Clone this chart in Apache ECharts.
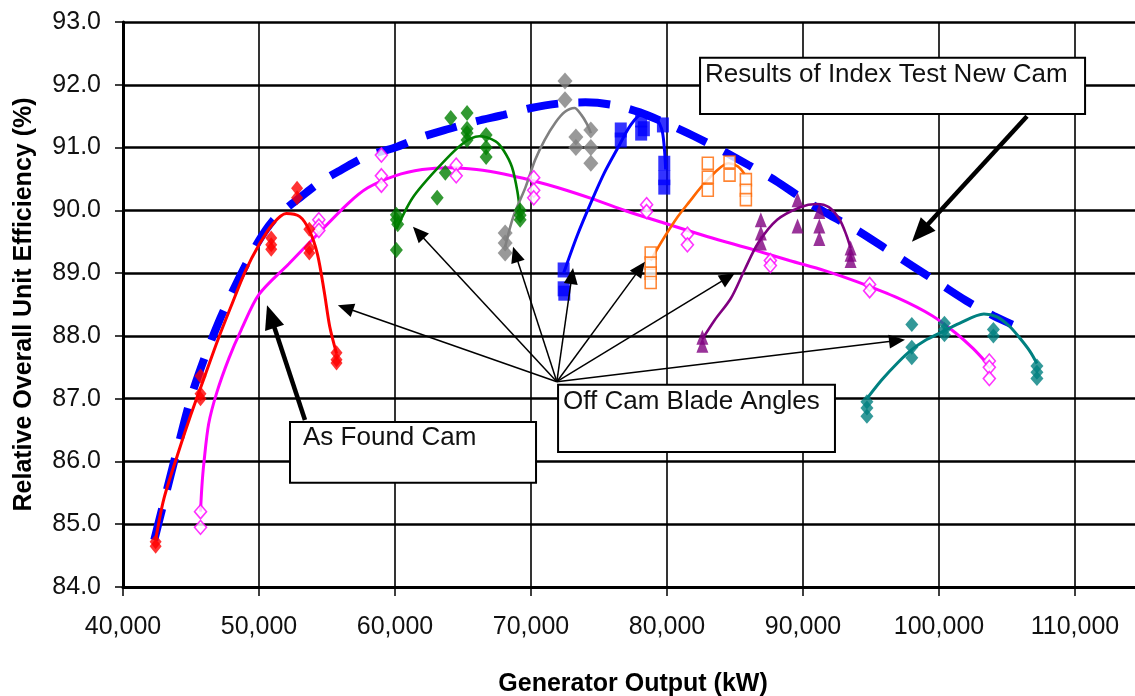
<!DOCTYPE html>
<html>
<head>
<meta charset="utf-8">
<script src="https://cdn.jsdelivr.net/npm/echarts@6/dist/echarts.min.js"></script>
<style>
  html, body { margin: 0; padding: 0; background: #fff; }
  #chart { width: 1135px; height: 696px; }
</style>
</head>
<body>
<div id="chart"></div>
<script>
// Axis ranges and tick spacing
const xMin = 40000, xMax = 115000, xStep = 10000;
const yMin = 84, yMax = 93, yStep = 1;
const xTitle = 'Generator Output (kW)';
const yTitle = 'Relative Overall Unit Efficiency (%)';

// Index test result with the new cam (dashed envelope)
const newCamCurve = [
  [42300, 84.75], [43000, 85.35], [44000, 86.2], [45000, 87.02], [46000, 87.65], [47000, 88.2],
  [48000, 88.68], [49000, 89.12], [50000, 89.52], [51000, 89.83], [52000, 90.03], [53000, 90.2],
  [54500, 90.45], [56000, 90.64], [58000, 90.87], [60000, 91.0], [62000, 91.17], [64000, 91.3],
  [66000, 91.42], [68000, 91.52], [70000, 91.63], [72000, 91.7], [74000, 91.72], [76000, 91.68],
  [78000, 91.56], [80000, 91.38], [82000, 91.18], [84000, 90.96], [86000, 90.72], [88000, 90.47],
  [90000, 90.18], [92000, 89.92], [94000, 89.68], [96000, 89.4], [98000, 89.12], [100000, 88.84],
  [102000, 88.56], [104000, 88.32], [105400, 88.18]
];

// As found cam: measured points and fitted curve
const asFoundPts = [
  [45700, 85.2], [45700, 84.95], [54400, 89.85], [54400, 89.75], [54400, 89.68],
  [59000, 90.88], [59000, 90.55], [59000, 90.4], [64500, 90.72], [64500, 90.55],
  [70200, 90.52], [70200, 90.32], [70200, 90.2], [78500, 90.09], [78500, 89.98],
  [81500, 89.62], [81500, 89.45], [87600, 89.2], [87600, 89.12], [94900, 88.82],
  [94900, 88.72], [103700, 87.6], [103700, 87.5], [103700, 87.32]
];
const asFoundCurve = [
  [45700, 85.2], [45800, 85.6], [45950, 85.98], [46300, 86.6], [46900, 87.1], [47800, 87.65],
  [48700, 88.1], [50000, 88.66], [52200, 89.15], [54400, 89.64], [56600, 90.12], [58000, 90.36],
  [60000, 90.55], [62000, 90.65], [64000, 90.68], [66000, 90.65], [68000, 90.58], [70000, 90.48],
  [72000, 90.36], [74700, 90.17], [77000, 89.99], [79900, 89.79], [83000, 89.58], [86400, 89.37],
  [89000, 89.2], [91600, 89.04], [94000, 88.86], [97000, 88.6], [99500, 88.32], [101200, 88.05],
  [102500, 87.8], [103700, 87.52]
];

// Off-cam blade angle runs: measured points and fitted curves
const redPts = [
  [42400, 84.65], [42400, 84.72], [45700, 87.0], [45700, 87.08], [45700, 87.36],
  [50900, 89.56], [50900, 89.45], [50900, 89.38], [52800, 90.35], [52800, 90.2],
  [53700, 89.7], [53700, 89.4], [53700, 89.32], [55700, 87.73], [55700, 87.62], [55700, 87.57]
];
const redCurve = [
  [42400, 84.75], [43000, 85.4], [44000, 86.1], [45000, 86.75], [46000, 87.35], [47000, 87.95],
  [48000, 88.5], [49000, 89.03], [50000, 89.45], [51000, 89.78], [52000, 89.95], [53000, 89.9],
  [53700, 89.68], [54300, 89.3], [54800, 88.7], [55200, 88.15], [55700, 87.72]
];

const greenPts = [
  [60100, 89.37], [60100, 89.85], [60100, 89.93], [60200, 89.78], [63100, 90.2], [63700, 90.6],
  [64100, 91.47], [65300, 91.55], [65300, 91.3], [65300, 91.23], [65300, 91.12],
  [66700, 91.2], [66700, 91.0], [66700, 90.85], [69200, 90.0], [69200, 89.85], [69200, 89.92]
];
const greenCurve = [
  [60100, 89.7], [61300, 90.2], [63000, 90.64], [64900, 91.05], [66200, 91.18], [67400, 91.1],
  [68000, 90.95], [68600, 90.69], [69000, 90.3], [69200, 89.96]
];

const grayPts = [
  [68100, 89.64], [68100, 89.48], [68100, 89.32], [72500, 92.06], [72500, 91.76],
  [73300, 91.17], [73300, 91.0], [74400, 91.28], [74400, 91.0], [74400, 90.75]
];
const grayCurve = [
  [68100, 89.42], [68700, 89.9], [69600, 90.37], [70300, 90.8], [71000, 91.12], [71800, 91.4],
  [72500, 91.57], [73200, 91.63], [73700, 91.52], [74100, 91.38], [74400, 91.23]
];

const bluePts = [
  [72400, 89.05], [72400, 88.75], [72450, 88.68], [76600, 91.28], [76600, 91.12],
  [78100, 91.44], [78100, 91.23], [78300, 91.3], [79700, 91.36], [79800, 90.75],
  [79800, 90.52], [79800, 90.37]
];
const blueCurve = [
  [72400, 89.0], [73400, 89.6], [74400, 90.12], [75400, 90.6], [76400, 91.0], [77300, 91.35],
  [78100, 91.52], [79000, 91.5], [79600, 91.3], [79800, 91.0], [79900, 90.65]
];

const orangePts = [
  [78800, 89.32], [78800, 89.16], [78800, 89.0], [78800, 88.85], [83000, 90.75], [83000, 90.53],
  [83000, 90.32], [84600, 90.77], [84600, 90.56], [85800, 90.49], [85800, 90.32], [85800, 90.17]
];
const orangeCurve = [
  [78800, 89.2], [79600, 89.5], [80800, 89.9], [81700, 90.15], [82500, 90.37], [83500, 90.6],
  [84500, 90.75], [85200, 90.7], [85700, 90.58]
];

const purplePts = [
  [82600, 87.98], [82600, 87.85], [86900, 89.85], [86900, 89.64], [86900, 89.48],
  [89600, 90.17], [89600, 89.75], [91200, 89.98], [91200, 89.75], [91200, 89.55],
  [93500, 89.4], [93500, 89.3], [93500, 89.2]
];
const purpleCurve = [
  [82600, 87.95], [83500, 88.25], [84700, 88.6], [85700, 89.05], [86700, 89.48], [88100, 89.85],
  [89800, 90.05], [91000, 90.1], [91900, 90.05], [92700, 89.85], [93200, 89.6], [93500, 89.4]
];

const tealPts = [
  [94700, 86.95], [94700, 86.85], [94700, 86.72], [98000, 88.18], [98000, 87.82], [98000, 87.65],
  [100400, 88.2], [100400, 88.1], [100400, 88.02], [104000, 88.1], [104000, 88.0],
  [107200, 87.52], [107200, 87.42], [107200, 87.32]
];
const tealCurve = [
  [94700, 87.0], [95800, 87.3], [97000, 87.58], [98000, 87.78], [99000, 87.93], [100100, 88.05],
  [101500, 88.2], [103300, 88.35], [104300, 88.3], [105200, 88.15], [106000, 87.95],
  [106700, 87.75], [107200, 87.56]
];

// Callout boxes (data-space corners) and their captions
const boxes = [
  { text: 'Results of Index Test New Cam', x0: 82430, x1: 110740, y0: 91.535, y1: 92.43, padX: 5, padY: 4 },
  { text: 'As Found Cam', x0: 52280, x1: 70370, y0: 85.66, y1: 86.63, padX: 13, padY: 3 },
  { text: 'Off Cam Blade Angles', x0: 71990, x1: 92350, y0: 86.15, y1: 87.22, padX: 5, padY: 4 }
];
// Callout arrows (data-space start and tip)
const thickArrows = [
  { from: [106470, 91.5], to: [98010, 89.5] },
  { from: [53380, 86.66], to: [50590, 88.49] }
];
const offCamOrigin = [71900, 87.27];
const offCamTips = [
  [55800, 88.49], [61320, 89.74], [68680, 89.42], [73090, 89.08],
  [78380, 89.18], [85000, 89.0], [97500, 87.94]
];

const FONT = "'Liberation Sans', Arial, Helvetica, sans-serif";

function curve(name, data, color, width) {
  return {
    name, type: 'line', data, smooth: 0.3, showSymbol: false, symbol: 'none',
    lineStyle: { color, width }, z: 3, silent: true
  };
}
function points(name, data, symbol, size, color, hollow) {
  return {
    name, type: 'scatter', data, symbol, symbolSize: size, z: 4, silent: true,
    itemStyle: hollow
      ? { color: '#fff', borderColor: color, borderWidth: 1.6 }
      : { color }
  };
}

const chart = echarts.init(document.getElementById('chart'), null, { renderer: 'canvas' });

chart.setOption({
  animation: false,
  backgroundColor: '#fff',
  textStyle: { fontFamily: FONT },
  grid: { left: 123, top: 22, bottom: 109, right: -8, containLabel: false, outerBoundsMode: 'none' },
  xAxis: {
    type: 'value', min: xMin, max: xMax, interval: xStep,
    name: xTitle, nameLocation: 'middle', nameGap: 85,
    nameTextStyle: { fontFamily: FONT, fontSize: 25, fontWeight: 'bold', color: '#000' },
    axisLine: { show: true, lineStyle: { color: '#000', width: 3 } },
    axisTick: { show: true, length: 9, lineStyle: { color: '#000', width: 1.5 } },
    axisLabel: {
      fontFamily: FONT, fontSize: 25, color: '#111', margin: 28, showMaxLabel: false,
      formatter: v => v.toLocaleString('en-US')
    },
    splitLine: { show: true, lineStyle: { color: '#000', width: 1.6 } }
  },
  yAxis: {
    type: 'value', min: yMin, max: yMax, interval: yStep,
    name: yTitle, nameLocation: 'middle', nameGap: 86, nameRotate: 90,
    nameTextStyle: { fontFamily: FONT, fontSize: 25, fontWeight: 'bold', color: '#000' },
    axisLine: { show: true, lineStyle: { color: '#000', width: 3 } },
    axisTick: { show: true, length: 8, lineStyle: { color: '#000', width: 1.5 } },
    axisLabel: {
      fontFamily: FONT, fontSize: 25, color: '#111', margin: 22,
      formatter: v => v.toFixed(1)
    },
    splitLine: { show: true, lineStyle: { color: '#000', width: 2.6 } }
  },
  series: [
    {
      name: 'Results of Index Test New Cam', type: 'line', data: newCamCurve, smooth: 0.3,
      showSymbol: false, symbol: 'none', z: 3, silent: true,
      lineStyle: { color: '#0000FF', width: 8, type: [32, 20], cap: 'butt', dashOffset: 0 }
    },
    curve('As Found Cam', asFoundCurve, '#FF00FF', 3),
    curve('Run 1', redCurve, '#FF0000', 3),
    curve('Run 2', greenCurve, '#008000', 2.6),
    curve('Run 3', grayCurve, '#808080', 2.6),
    curve('Run 4', blueCurve, '#0000FF', 3),
    curve('Run 5', orangeCurve, '#FF6600', 2.6),
    curve('Run 6', purpleCurve, '#800080', 2.6),
    curve('Run 7', tealCurve, '#008080', 3),
    points('As Found Cam pts', asFoundPts, 'diamond', [12, 14], '#FF00FF', true),
    points('Run 1 pts', redPts, 'diamond', [12, 15], '#FF0000', false),
    points('Run 2 pts', greenPts, 'diamond', [13, 16], '#008000', false),
    points('Run 3 pts', grayPts, 'diamond', [15, 17], '#808080', false),
    points('Run 4 pts', bluePts, 'rect', [12, 15], '#0000FF', false),
    points('Run 5 pts', orangePts, 'rect', [11, 12], '#FF6600', true),
    points('Run 6 pts', purplePts, 'triangle', [12, 15], '#800080', false),
    points('Run 7 pts', tealPts, 'diamond', [13, 15], '#008080', false)
  ]
});

// Callouts are placed in data space and converted to pixels
function toPx(p) { return chart.convertToPixel({ gridIndex: 0 }, p); }

function arrow(from, to, width, headLen, headWidth) {
  const s = toPx(from), t = toPx(to);
  const dx = t[0] - s[0], dy = t[1] - s[1];
  const L = Math.hypot(dx, dy), ux = dx / L, uy = dy / L;
  const bx = t[0] - ux * headLen, by = t[1] - uy * headLen, hw = headWidth / 2;
  return [
    { type: 'line', z: 100, silent: true,
      shape: { x1: s[0], y1: s[1], x2: bx + ux * 2, y2: by + uy * 2 },
      style: { stroke: '#000', lineWidth: width } },
    { type: 'polygon', z: 100, silent: true,
      shape: { points: [[t[0], t[1]], [bx - uy * hw, by + ux * hw], [bx + uy * hw, by - ux * hw]] },
      style: { fill: '#000' } }
  ];
}

function box(b) {
  const tl = toPx([b.x0, b.y1]), br = toPx([b.x1, b.y0]);
  return [
    { type: 'rect', z: 90, silent: true,
      shape: { x: tl[0], y: tl[1], width: br[0] - tl[0], height: br[1] - tl[1] },
      style: { fill: '#fff', stroke: '#000', lineWidth: 2 } },
    { type: 'text', z: 91, silent: true, x: tl[0] + b.padX, y: tl[1] + b.padY,
      style: { text: b.text, font: '26px ' + FONT, fill: '#111',
               textVerticalAlign: 'top', verticalAlign: 'top' } }
  ];
}

const elements = [];
boxes.forEach(b => elements.push(...box(b)));
thickArrows.forEach(a => elements.push(...arrow(a.from, a.to, 4.5, 24, 20)));
offCamTips.forEach(tip => elements.push(...arrow(offCamOrigin, tip, 1.5, 16, 14)));
chart.setOption({ graphic: { elements } });
</script>
</body>
</html>
